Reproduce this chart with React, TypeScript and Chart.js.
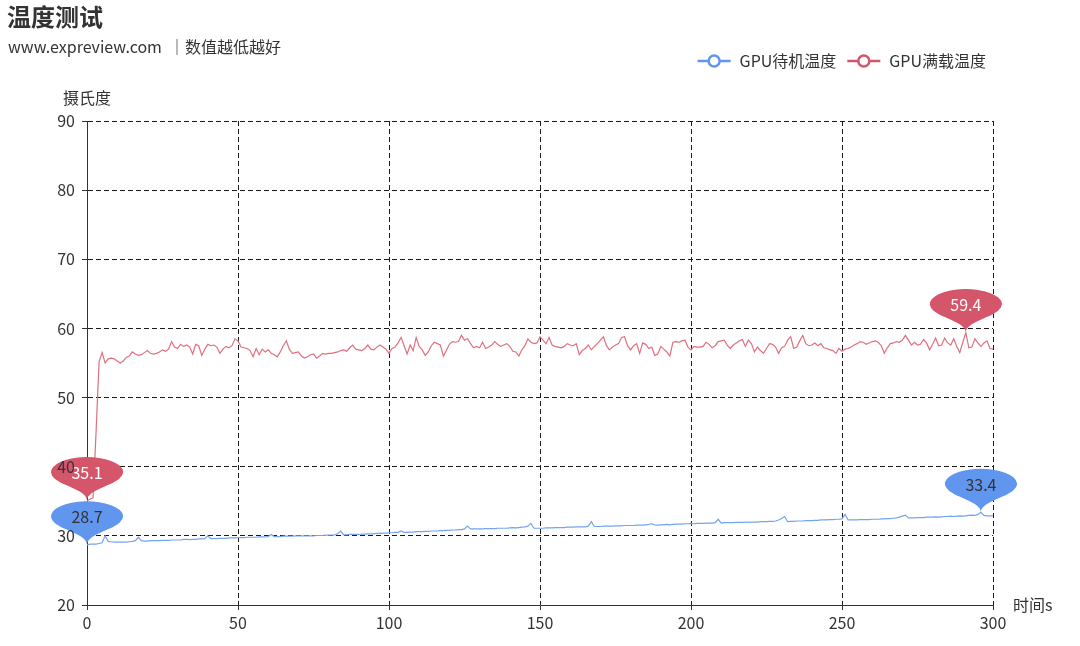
import React, { useEffect, useRef } from 'react';
import { Chart, registerables } from 'chart.js';

Chart.register(...registerables);

const TITLE = '温度测试';
const SUBTITLE = 'www.expreview.com  ｜数值越低越好';
const SERIES_NAMES = ['GPU待机温度', 'GPU满载温度'];
const SERIES_COLORS = ['#6196ee', '#d5566b'];
const LINE_COLORS = ['#74a3f2', '#e0707f'];
const PIN_TEXT_COLORS = ['#333333', '#ffffff'];
const Y_AXIS_NAME = '摄氏度';
const X_AXIS_NAME = '时间s';
const Y_MIN = 20;
const Y_MAX = 90;
const Y_STEP = 10;
const X_MIN = 0;
const X_MAX = 300;
const X_STEP = 50;

// GPU idle temperature, one value per second (0..300 s)
const IDLE = [
  28.7, 28.8, 28.8, 28.8, 28.9, 29.0, 30.0, 29.2, 29.15, 29.1,
  29.1, 29.1, 29.1, 29.1, 29.15, 29.2, 29.3, 29.8, 29.3, 29.25,
  29.25, 29.3, 29.3, 29.3, 29.3, 29.35, 29.35, 29.35, 29.4, 29.4,
  29.4, 29.4, 29.5, 29.5, 29.45, 29.5, 29.5, 29.55, 29.55, 29.6,
  30.0, 29.6, 29.6, 29.6, 29.65, 29.65, 29.65, 29.7, 29.7, 29.7,
  29.75, 29.75, 29.75, 29.8, 29.8, 29.8, 29.8, 29.85, 29.85, 29.85,
  29.9, 30.2, 29.9, 29.9, 29.9, 29.95, 29.95, 29.95, 29.95, 30.0,
  30.0, 30.0, 30.0, 30.0, 30.0, 30.0, 30.05, 30.05, 30.05, 30.1,
  30.1, 30.1, 30.15, 30.3, 30.7, 30.15, 30.15, 30.2, 30.2, 30.2,
  30.2, 30.25, 30.25, 30.3, 30.3, 30.3, 30.35, 30.35, 30.4, 30.4,
  30.45, 30.45, 30.5, 30.5, 30.7, 30.5, 30.5, 30.55, 30.55, 30.6,
  30.6, 30.6, 30.65, 30.65, 30.7, 30.7, 30.7, 30.75, 30.75, 30.8,
  30.8, 30.85, 30.85, 30.9, 30.9, 31.0, 31.4, 31.0, 31.0, 31.0,
  31.0, 31.0, 31.05, 31.05, 31.05, 31.05, 31.1, 31.1, 31.1, 31.1,
  31.15, 31.2, 31.15, 31.2, 31.25, 31.3, 31.4, 31.8, 31.1, 31.1,
  31.1, 31.1, 31.15, 31.15, 31.15, 31.2, 31.2, 31.2, 31.2, 31.25,
  31.25, 31.25, 31.3, 31.3, 31.3, 31.3, 31.4, 32.05, 31.35, 31.35,
  31.35, 31.4, 31.4, 31.4, 31.4, 31.45, 31.45, 31.45, 31.5, 31.5,
  31.5, 31.5, 31.55, 31.55, 31.55, 31.6, 31.65, 31.75, 31.6, 31.55,
  31.6, 31.6, 31.65, 31.6, 31.65, 31.7, 31.7, 31.7, 31.75, 31.75,
  31.8, 31.75, 31.8, 31.8, 31.8, 31.85, 31.85, 31.85, 31.9, 32.4,
  31.85, 31.9, 31.9, 31.9, 31.9, 31.95, 31.95, 31.95, 32.0, 31.95,
  32.0, 32.0, 32.0, 32.05, 32.05, 32.05, 32.1, 32.1, 32.15, 32.3,
  32.5, 32.8, 32.05, 32.1, 32.1, 32.15, 32.15, 32.15, 32.2, 32.2,
  32.2, 32.25, 32.25, 32.3, 32.3, 32.3, 32.35, 32.35, 32.4, 32.4,
  32.45, 33.1, 32.3, 32.3, 32.3, 32.3, 32.35, 32.35, 32.35, 32.35,
  32.4, 32.4, 32.4, 32.45, 32.45, 32.5, 32.5, 32.55, 32.6, 32.7,
  32.85, 33.0, 32.6, 32.6, 32.6, 32.65, 32.65, 32.65, 32.7, 32.7,
  32.7, 32.75, 32.7, 32.75, 32.8, 32.8, 32.85, 32.8, 32.85, 32.9,
  32.85, 32.9, 32.95, 33.0, 32.95, 33.1, 33.4, 32.95, 32.9, 32.9,
  32.9,
];

// GPU full-load temperature, one value per second (0..300 s)
const LOAD = [
  35.1, 35.3, 35.5, 45.0, 55.2, 56.5, 55.0, 55.6, 55.7, 55.6,
  55.3, 55.0, 55.3, 55.8, 56.0, 56.6, 56.3, 56.1, 56.2, 56.5,
  56.8, 56.4, 56.3, 56.4, 56.6, 56.9, 56.7, 57.0, 58.1, 57.3,
  57.1, 57.7, 57.4, 57.6, 57.3, 56.3, 57.7, 57.5, 56.1, 57.0,
  57.7, 57.5, 57.6, 57.3, 56.4, 57.0, 57.4, 57.2, 57.5, 58.5,
  58.2, 57.3, 57.2, 57.1, 56.8, 55.9, 57.1, 56.2, 57.0, 56.6,
  56.9, 56.4, 56.2, 55.9, 56.6, 57.5, 58.2, 57.0, 56.4, 56.5,
  56.6, 56.0, 55.7, 55.9, 56.2, 56.3, 55.7, 56.0, 56.4, 56.3,
  56.4, 56.4, 56.5, 56.6, 56.8, 56.9, 56.7, 57.2, 57.6, 57.0,
  56.9, 56.8, 57.1, 57.6, 57.0, 56.9, 57.3, 57.6, 57.3, 57.0,
  56.4, 57.1, 57.3, 57.9, 58.7, 57.5, 56.3, 57.6, 56.8, 58.7,
  57.4, 56.9, 56.1, 56.6, 57.5, 58.0, 57.8, 57.6, 56.0, 56.8,
  57.7, 58.1, 58.0, 58.1, 59.0, 58.3, 58.5, 57.8, 57.2, 57.4,
  57.2, 58.0, 57.1, 57.3, 57.6, 58.1, 57.7, 57.4, 57.6, 57.8,
  57.4, 56.7, 56.6, 56.0, 56.9, 57.5, 58.5, 58.0, 57.8, 57.9,
  58.8, 58.3, 57.8, 58.7, 57.6, 57.4, 57.3, 57.2, 57.4, 57.8,
  57.6, 57.5, 57.8, 56.2, 56.8, 57.1, 57.6, 56.9, 57.4, 57.8,
  58.3, 58.8, 57.5, 56.9, 57.3, 57.6, 57.8, 58.7, 58.8, 57.5,
  56.9, 57.5, 57.8, 56.4, 57.9, 57.7, 57.1, 57.3, 56.1, 56.3,
  57.4, 57.0, 56.6, 56.0, 58.0, 58.1, 58.0, 58.2, 58.3, 57.3,
  56.9, 57.4, 57.3, 57.3, 57.4, 58.0, 57.7, 57.2, 57.5, 58.1,
  58.2, 58.3, 57.6, 57.1, 57.6, 57.9, 58.2, 58.4, 57.4, 58.3,
  57.8, 56.6, 57.3, 56.8, 56.4, 57.1, 57.8, 57.7, 57.3, 56.4,
  57.2, 57.4, 58.3, 58.8, 57.1, 57.3, 58.2, 59.0, 57.8, 57.5,
  57.6, 57.9, 57.5, 57.8, 57.2, 57.1, 56.9, 56.8, 56.4, 57.1,
  56.7, 57.0, 57.1, 57.3, 57.6, 57.8, 58.1, 58.0, 57.7, 57.9,
  58.1, 58.2, 58.0, 57.5, 56.4, 57.2, 57.8, 57.9, 58.1, 58.0,
  58.3, 59.0, 58.3, 57.6, 58.0, 57.6, 57.7, 58.4, 57.9, 56.9,
  57.7, 58.6, 57.5, 57.6, 58.6, 57.9, 57.6, 58.5, 57.4, 56.5,
  58.0, 59.4, 57.2, 57.3, 58.5, 57.9, 57.4, 57.9, 58.2, 57.1,
  57.0,
];

const SERIES = [IDLE, LOAD];
const FONT = '"Noto Sans CJK SC", "Noto Sans", sans-serif';
const TEXT_COLOR = '#333333';
const AXIS_COLOR = '#333333';
const GRID_COLOR = '#1a1a1a';

function drawPin(ctx: CanvasRenderingContext2D, x: number, y: number, color: string) {
  const sx = 2.4;
  const h = 50;
  const r = 15;
  const dy = (r * r) / (h - r);
  const cy = -h + r + dy;
  const angle = Math.asin(dy / r);
  const dx = Math.cos(angle) * r;
  const tanX = Math.sin(angle);
  const tanY = Math.cos(angle);
  const cpLen = r * 0.6;
  const cpLen2 = r * 0.7;
  ctx.save();
  ctx.translate(x, y);
  ctx.scale(sx, 1);
  ctx.beginPath();
  ctx.moveTo(-dx, cy + dy);
  ctx.arc(0, cy, r, Math.PI - angle, Math.PI * 2 + angle);
  ctx.bezierCurveTo(dx - tanX * cpLen, cy + dy + tanY * cpLen, 0, -cpLen2, 0, 0);
  ctx.bezierCurveTo(0, -cpLen2, -dx + tanX * cpLen, cy + dy + tanY * cpLen, -dx, cy + dy);
  ctx.closePath();
  ctx.restore();
  ctx.fillStyle = color;
  ctx.fill();
  return y + cy;
}

const pinPlugin = {
  id: 'pins',
  afterDatasetsDraw(chart: any) {
    const ctx = chart.ctx as CanvasRenderingContext2D;
    const xs = chart.scales.x;
    const ys = chart.scales.y;
    const order = [1, 0];
    ctx.save();
    for (const si of order) {
      const data = SERIES[si];
      let maxI = 0;
      let minI = 0;
      data.forEach((v, i) => {
        if (v > data[maxI]) maxI = i;
        if (v < data[minI]) minI = i;
      });
      for (const idx of [maxI, minI]) {
        const px = xs.getPixelForValue(idx);
        const py = ys.getPixelForValue(data[idx]);
        const cy = drawPin(ctx, px, py, SERIES_COLORS[si]);
        ctx.fillStyle = PIN_TEXT_COLORS[si];
        ctx.font = `16px ${FONT}`;
        ctx.textAlign = 'center';
        ctx.textBaseline = 'middle';
        ctx.fillText(data[idx].toFixed(1), px, cy + 1);
      }
    }
    ctx.restore();
  },
};

const textPlugin = {
  id: 'texts',
  afterDraw(chart: any) {
    const ctx = chart.ctx as CanvasRenderingContext2D;
    const area = chart.chartArea;
    ctx.save();
    ctx.fillStyle = TEXT_COLOR;
    ctx.textBaseline = 'middle';
    ctx.textAlign = 'left';
    ctx.font = `bold 24px ${FONT}`;
    ctx.fillText(TITLE, 7, 17);
    ctx.font = `16px ${FONT}`;
    ctx.fillText(SUBTITLE, 8, 47);

    // axis names
    ctx.textAlign = 'center';
    ctx.fillText(Y_AXIS_NAME, area.left, area.top - 23);
    ctx.textAlign = 'left';
    ctx.fillText(X_AXIS_NAME, area.right + 20, area.bottom);

    // legend
    const legendRight = 986;
    const legendY = 61;
    const iconW = 33;
    const iconGap = 9;
    const itemGap = 11;
    const widths = SERIES_NAMES.map((n) => ctx.measureText(n).width);
    let x = legendRight;
    const starts: number[] = [];
    for (let i = SERIES_NAMES.length - 1; i >= 0; i--) {
      x -= widths[i];
      const textX = x;
      x -= iconGap + iconW;
      starts[i] = x;
      x -= itemGap;
      ctx.fillStyle = TEXT_COLOR;
      ctx.textAlign = 'left';
      ctx.fillText(SERIES_NAMES[i], textX, legendY);
    }
    SERIES_NAMES.forEach((_, i) => {
      const sx = starts[i];
      ctx.strokeStyle = SERIES_COLORS[i];
      ctx.lineWidth = 2.5;
      ctx.beginPath();
      ctx.moveTo(sx, legendY);
      ctx.lineTo(sx + iconW, legendY);
      ctx.stroke();
      ctx.beginPath();
      ctx.arc(sx + iconW / 2, legendY, 5.5, 0, Math.PI * 2);
      ctx.fillStyle = '#ffffff';
      ctx.fill();
      ctx.lineWidth = 2.5;
      ctx.stroke();
    });
    ctx.restore();
  },
};

export default function App() {
  const canvasRef = useRef<HTMLCanvasElement | null>(null);

  useEffect(() => {
    const canvas = canvasRef.current;
    if (!canvas) return;
    const chart = new Chart(canvas, {
      type: 'line',
      data: {
        datasets: SERIES.map((s, si) => ({
          label: SERIES_NAMES[si],
          data: s.map((v, i) => ({ x: i, y: v })),
          borderColor: LINE_COLORS[si],
          backgroundColor: LINE_COLORS[si],
          borderWidth: 1.2,
          pointRadius: 0,
          tension: 0,
          fill: false,
        })),
      },
      options: {
        animation: false,
        responsive: true,
        maintainAspectRatio: false,
        layout: { padding: { top: 121, right: 87, left: 0, bottom: 0 } },
        plugins: {
          legend: { display: false },
          title: { display: false },
          tooltip: { enabled: false },
        },
        scales: {
          x: {
            type: 'linear',
            min: X_MIN,
            max: X_MAX,
            afterFit: (s: any) => {
              s.height = 41;
            },
            ticks: {
              stepSize: X_STEP,
              color: TEXT_COLOR,
              font: { family: FONT, size: 16 },
              padding: 3,
              maxRotation: 0,
            },
            grid: {
              color: (c: any) => (c.tick && c.tick.value === X_MIN ? 'rgba(0,0,0,0)' : GRID_COLOR),
              lineWidth: 1,
              tickLength: 5,
              tickColor: AXIS_COLOR,
            },
            border: { color: AXIS_COLOR, width: 1, dash: [5, 3] },
          },
          y: {
            type: 'linear',
            min: Y_MIN,
            max: Y_MAX,
            afterFit: (s: any) => {
              s.width = 87;
            },
            ticks: {
              stepSize: Y_STEP,
              color: TEXT_COLOR,
              font: { family: FONT, size: 16 },
              padding: 7,
              z: 1,
            },
            grid: {
              color: (c: any) => (c.tick && c.tick.value === Y_MIN ? 'rgba(0,0,0,0)' : GRID_COLOR),
              lineWidth: 1,
              tickLength: 5,
              tickColor: AXIS_COLOR,
            },
            border: { color: AXIS_COLOR, width: 1, dash: [5, 3] },
          },
        },
      },
      plugins: [pinPlugin, textPlugin],
    } as any);
    return () => chart.destroy();
  }, []);

  return (
    <div style={{ position: 'absolute', left: 0, top: 0, width: 1080, height: 646, background: '#fff' }}>
      <canvas ref={canvasRef} />
    </div>
  );
}
